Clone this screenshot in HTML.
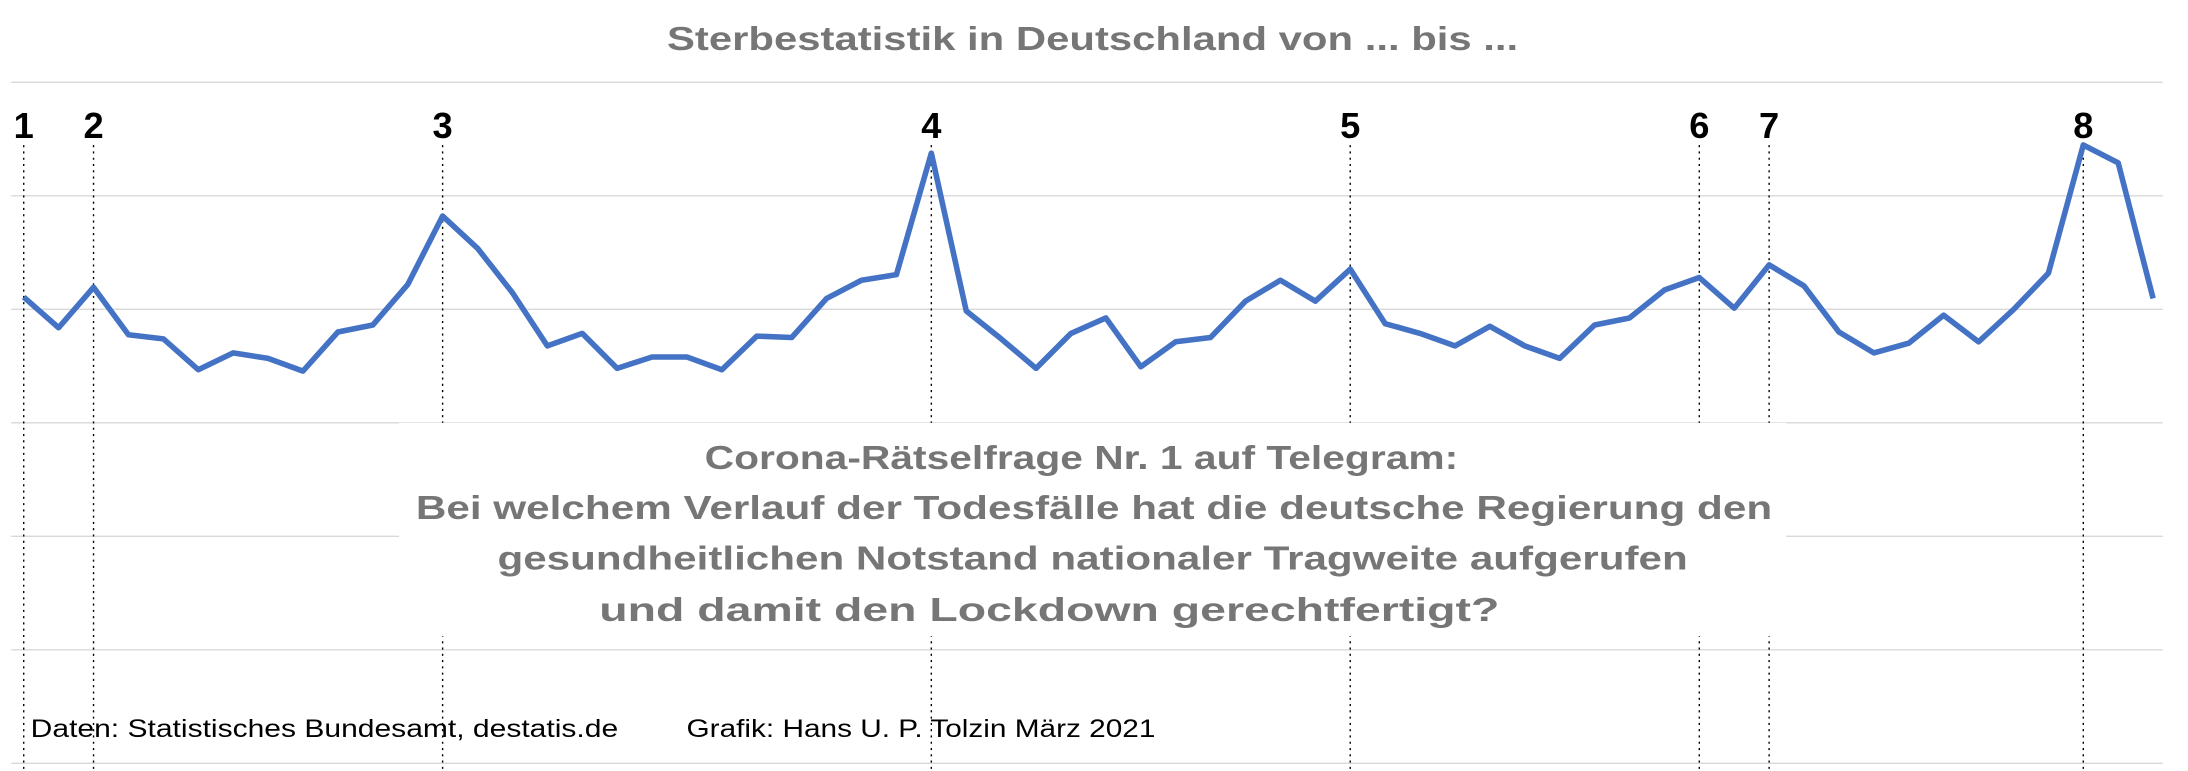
<!DOCTYPE html>
<html><head><meta charset="utf-8"><style>
html,body{margin:0;padding:0;background:#fff;}
svg{display:block;font-family:"Liberation Sans",sans-serif;}
</style></head><body>
<svg id="chart" width="2188" height="771" viewBox="0 0 1568 552.5" preserveAspectRatio="none" xmlns="http://www.w3.org/2000/svg">
<rect width="1568" height="552.5" fill="#fff"/>
<text x="783" y="36" text-anchor="middle" font-size="24" font-weight="bold" fill="#767676" textLength="610" lengthAdjust="spacingAndGlyphs">Sterbestatistik in Deutschland von ... bis ...</text>
<g id="grid"></g>
<g id="markers"></g>
<g id="series"></g>
<rect x="286" y="303" width="994" height="153" fill="#fff"/>
<g font-size="24" font-weight="bold" fill="#767676" text-anchor="middle">
<text x="775" y="336" textLength="540" lengthAdjust="spacingAndGlyphs">Corona-Rätselfrage Nr. 1 auf Telegram:</text>
<text x="784" y="372" textLength="972" lengthAdjust="spacingAndGlyphs">Bei welchem Verlauf der Todesfälle hat die deutsche Regierung den</text>
<text x="783" y="408" textLength="853" lengthAdjust="spacingAndGlyphs">gesundheitlichen Notstand nationaler Tragweite aufgerufen</text>
<text x="752" y="445" textLength="645" lengthAdjust="spacingAndGlyphs">und damit den Lockdown gerechtfertigt?</text>
</g>
<text x="22" y="528" font-size="18" fill="#000" textLength="421" lengthAdjust="spacingAndGlyphs">Daten: Statistisches Bundesamt, destatis.de</text>
<text x="492" y="528" font-size="18" fill="#000" textLength="336" lengthAdjust="spacingAndGlyphs">Grafik: Hans U. P. Tolzin März 2021</text>
</svg>
<script>
const weeklyDeaths = [20.54,19.19,20.97,18.88,18.70,17.34,18.08,17.84,17.28,19.00,19.31,21.09,24.11,22.69,20.73,18.39,18.94,17.40,17.90,17.90,17.34,18.82,18.76,20.48,21.28,21.53,26.88,19.93,18.70,17.40,18.94,19.62,17.47,18.57,18.76,20.36,21.28,20.36,21.77,19.37,18.94,18.39,19.25,18.39,17.84,19.31,19.62,20.85,21.40,20.05,21.96,21.03,19.00,18.08,18.51,19.74,18.57,19.99,21.59,27.24,26.45,20.48];
const gridValues = [0,5,10,15,20,25,30];
const markerLabels = ["1","2","3","4","5","6","7","8"];
const markerIndices = [0,2,12,26,38,48,50,59];

const NS = "http://www.w3.org/2000/svg";
const x0 = 17, x1 = 1543, yBottom = 547, yTop = 59, vMax = 30;
function xScale(i){ return x0 + i * (x1 - x0) / (weeklyDeaths.length - 1); }
function yScale(v){ return yBottom - v / vMax * (yBottom - yTop); }

const grid = document.getElementById('grid');
gridValues.forEach(v => {
  const l = document.createElementNS(NS,'line');
  
  
  l.setAttribute('x1',8); l.setAttribute('x2',1550);
  l.setAttribute('y1',yScale(v)); l.setAttribute('y2',yScale(v));
  l.setAttribute('stroke','#d9d9d9'); l.setAttribute('stroke-width','1');
  grid.appendChild(l);
});

const markers = document.getElementById('markers');
markerIndices.forEach((idx,k) => {
  const x = xScale(idx);
  const l = document.createElementNS(NS,'line');
  
  
  l.setAttribute('x1',x); l.setAttribute('x2',x);
  l.setAttribute('y1',104); l.setAttribute('y2',552);
  l.setAttribute('stroke','#000'); l.setAttribute('stroke-width','1');
  l.setAttribute('stroke-dasharray','1.5 3');
  markers.appendChild(l);
  const t = document.createElementNS(NS,'text');
  
  
  t.setAttribute('x',x); t.setAttribute('y',99);
  t.setAttribute('text-anchor','middle');
  t.setAttribute('font-size','26'); t.setAttribute('font-weight','bold');
  t.setAttribute('fill','#000');
  t.textContent = markerLabels[k];
  markers.appendChild(t);
});

const series = document.getElementById('series');
const p = document.createElementNS(NS,'polyline');


p.setAttribute('points', weeklyDeaths.map((v,i)=>xScale(i)+','+yScale(v)).join(' '));
p.setAttribute('fill','none'); p.setAttribute('stroke','#4472C4');
p.setAttribute('stroke-width','4'); p.setAttribute('stroke-linejoin','round');
series.appendChild(p);
</script>
</body></html>
